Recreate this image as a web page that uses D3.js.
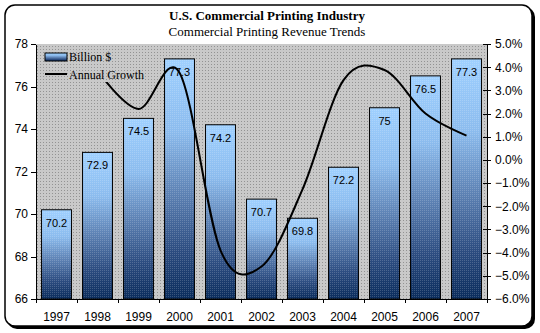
<!DOCTYPE html>
<html>
<head>
<meta charset="utf-8">
<script src="https://cdn.jsdelivr.net/npm/d3@7"></script>
<style>
  html, body { margin: 0; padding: 0; background: #fff; }
  svg { display: block; }
</style>
</head>
<body>
<svg id="chart" width="540" height="333"></svg>
<script>
// Revenue in billions of dollars and year-over-year growth (percent)
const years = ["1997","1998","1999","2000","2001","2002","2003","2004","2005","2006","2007"];
const revenue = [70.2, 72.9, 74.5, 77.3, 74.2, 70.7, 69.8, 72.2, 75, 76.5, 77.3];
const revenueLabels = ["70.2","72.9","74.5","77.3","74.2","70.7","69.8","72.2","75","76.5","77.3"];
const growth = [null, 3.85, 2.2, 3.76, -3.9, -4.6, -1.27, 3.44, 3.88, 2.0, 1.05];
const leftTicks = [66, 68, 70, 72, 74, 76, 78];
const rightTicks = [-6, -5, -4, -3, -2, -1, 0, 1, 2, 3, 4, 5];
const titleText = "U.S. Commercial Printing Industry";
const subtitleText = "Commercial Printing Revenue Trends";
const legendLabels = ["Billion $", "Annual Growth"];

const svg = d3.select("#chart");
const plot = { left: 36, right: 487, top: 44, bottom: 299 };

const defs = svg.append("defs");

// dotted grey fill of the plot area
const pat = defs.append("pattern").attr("id", "plotDots")
  .attr("patternUnits", "userSpaceOnUse").attr("width", 3).attr("height", 3);
pat.append("rect").attr("width", 3).attr("height", 3).attr("fill", "#c9c9c9");
pat.append("rect").attr("x", 1).attr("y", 1).attr("width", 1).attr("height", 1).attr("fill", "#939393");

// bar gradient: light sky blue at the top to navy at the base
const grad = defs.append("linearGradient").attr("id", "barGrad")
  .attr("x1", 0).attr("y1", 0).attr("x2", 0).attr("y2", 1);
[[0, "#9fd0ff"], [0.3, "#8cbcee"], [0.55, "#5f84b6"], [0.8, "#2c4c80"], [1, "#0a2c5c"]]
  .forEach(([o, c]) => grad.append("stop").attr("offset", o).attr("stop-color", c));

// fine dither on the bars
const dither = defs.append("pattern").attr("id", "barDither")
  .attr("patternUnits", "userSpaceOnUse").attr("width", 2).attr("height", 2);
dither.append("rect").attr("width", 1).attr("height", 1).attr("fill", "#ffffff").attr("opacity", 0.18);

// chart frame with drop shadow
svg.append("rect").attr("x", 7).attr("y", 7).attr("width", 528).attr("height", 322)
  .attr("rx", 10).attr("fill", "#000");
svg.append("rect").attr("x", 5).attr("y", 5).attr("width", 527).attr("height", 321)
  .attr("rx", 10).attr("fill", "#fff").attr("stroke", "#000").attr("stroke-width", 1.5);

// titles
svg.append("text").attr("x", 267).attr("y", 20).attr("text-anchor", "middle")
  .attr("font-family", "Liberation Serif, Times New Roman, serif")
  .attr("font-size", 13).attr("font-weight", "bold").text(titleText);
svg.append("text").attr("x", 267).attr("y", 36).attr("text-anchor", "middle")
  .attr("font-family", "Liberation Serif, Times New Roman, serif")
  .attr("font-size", 13).text(subtitleText);

// scales
const x = d3.scaleBand().domain(years).range([plot.left, plot.right])
  .paddingInner(0.27).paddingOuter(0.135);
const slot = d3.scaleBand().domain(years).range([plot.left, plot.right]).padding(0);
const yL = d3.scaleLinear().domain([66, 78]).range([plot.bottom, plot.top]);
const yR = d3.scaleLinear().domain([-6, 5]).range([plot.bottom, plot.top]);

// plot area
svg.append("rect").attr("x", plot.left).attr("y", plot.top)
  .attr("width", plot.right - plot.left).attr("height", plot.bottom - plot.top)
  .attr("fill", "url(#plotDots)");

// bars
const bars = svg.append("g");
revenue.forEach((v, i) => {
  const bx = x(years[i]), bw = x.bandwidth(), by = yL(v), bh = yL(66) - yL(v);
  bars.append("rect").attr("x", bx).attr("y", by).attr("width", bw).attr("height", bh)
    .attr("fill", "url(#barGrad)");
  bars.append("rect").attr("x", bx).attr("y", by).attr("width", bw).attr("height", bh)
    .attr("fill", "url(#barDither)").attr("stroke", "#000").attr("stroke-width", 1);
});

// value labels inside the bars
svg.append("g").selectAll("text").data(revenue).join("text")
  .attr("x", (d, i) => x(years[i]) + x.bandwidth() / 2)
  .attr("y", d => yL(d) + 17)
  .attr("text-anchor", "middle")
  .attr("font-family", "Liberation Sans, Arial, sans-serif").attr("font-size", 11)
  .text((d, i) => revenueLabels[i]);

// smoothed growth line on the secondary axis
const pts = growth.map((g, i) => g === null ? null : [x(years[i]) + x.bandwidth() / 2, yR(g)])
  .filter(p => p);
svg.append("path").attr("d", d3.line().curve(d3.curveCatmullRom.alpha(0))(pts))
  .attr("fill", "none").attr("stroke", "#000").attr("stroke-width", 2);

// axes
const fontSans = "Liberation Sans, Arial, sans-serif";
const gL = svg.append("g").attr("transform", `translate(${plot.left},0)`)
  .call(d3.axisLeft(yL).tickValues(leftTicks).tickSize(5).tickSizeOuter(0).tickFormat(d3.format("d")));
const gR = svg.append("g").attr("transform", `translate(${plot.right},0)`)
  .call(d3.axisRight(yR).tickValues(rightTicks).tickSize(4).tickSizeOuter(0)
    .tickFormat(d => d3.format(".1f")(d) + "%"));
gR.selectAll(".tick line").attr("x1", -4).attr("x2", 4);
gR.selectAll(".tick text").attr("x", 8);
const gB = svg.append("g").attr("transform", `translate(0,${plot.bottom})`)
  .call(d3.axisBottom(slot).tickSize(0).tickSizeOuter(0));
gB.selectAll(".tick text").attr("dy", 0).attr("y", 22);
// category ticks at slot boundaries
const bounds = years.map(d => slot(d)).concat([slot(years[years.length - 1]) + slot.bandwidth()]);
gB.selectAll("line.bound").data(bounds).join("line").attr("class", "bound")
  .attr("x1", d => d).attr("x2", d => d)
  .attr("y1", 0).attr("y2", 4).attr("stroke", "#000");

[gL, gR, gB].forEach(g => {
  g.selectAll("text").attr("font-family", fontSans).attr("font-size", 12).attr("fill", "#000");
  g.selectAll("line, path").attr("stroke", "#000").attr("shape-rendering", "crispEdges");
});

// legend, drawn over the plot with the plot fill
const lg = svg.append("g");
lg.append("rect").attr("x", 40).attr("y", 46).attr("width", 106).attr("height", 36)
  .attr("fill", "url(#plotDots)");
lg.append("rect").attr("x", 45).attr("y", 53).attr("width", 22).attr("height", 8)
  .attr("fill", "url(#barGrad)").attr("stroke", "#000");
lg.append("line").attr("x1", 45).attr("x2", 67).attr("y1", 74).attr("y2", 74)
  .attr("stroke", "#000").attr("stroke-width", 2);
lg.selectAll("text").data(legendLabels).join("text")
  .attr("x", 69).attr("y", (d, i) => 61 + i * 18)
  .attr("font-family", "Liberation Serif, Times New Roman, serif").attr("font-size", 12)
  .text(d => d);
</script>
</body>
</html>
